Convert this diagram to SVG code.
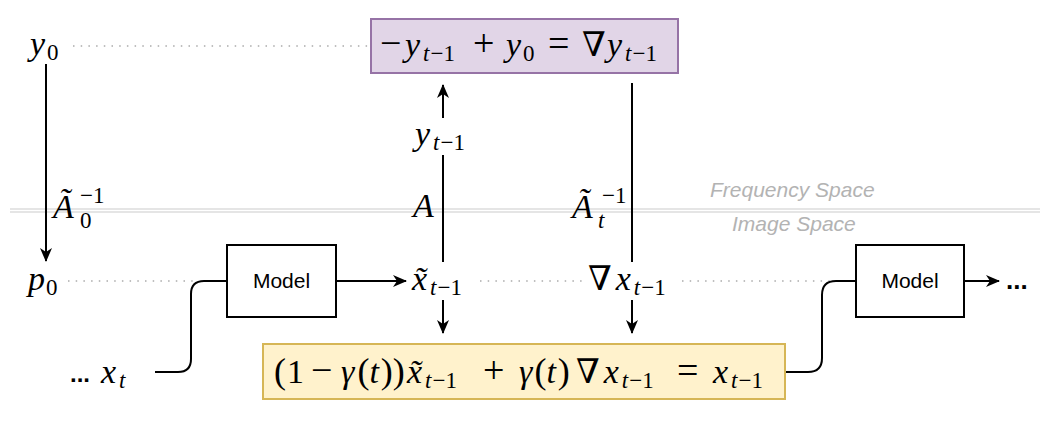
<svg xmlns="http://www.w3.org/2000/svg" width="1047" height="432" viewBox="0 0 1047 432">
<style>
.m{font-family:"Liberation Serif","DejaVu Serif",serif;font-style:italic;font-size:34px;fill:#000}
.r{font-style:normal}
.s{font-size:23px}
.op{font-style:normal;font-size:38px}
.pa{font-style:normal;font-size:36px}
.sans{font-family:"Liberation Sans",Arial,sans-serif;fill:#000}
.space{font-family:"Liberation Sans",Arial,sans-serif;font-style:italic;font-size:21px;fill:#b3b3b3}
.ln{stroke:#000;stroke-width:2;fill:none}
.arr{stroke:#000;stroke-width:2;fill:none;marker-end:url(#ah)}
.dot{stroke:#aaa;stroke-width:1.5;stroke-dasharray:1.5 6.2;fill:none}
.sep{stroke:#dcdcdc;stroke-width:1.5;fill:none}
.box{fill:#fff;stroke:#000;stroke-width:2}
</style>
<defs>
<marker id="ah" viewBox="0 0 14 12" refX="13" refY="6" markerWidth="14" markerHeight="12" markerUnits="userSpaceOnUse" orient="auto">
<path d="M0,0 L14,6 L0,12 L4,6 Z" fill="#000"/>
</marker>
</defs>
<rect width="1047" height="432" fill="#fff"/>

<g id="separator">
<line class="sep" x1="10" y1="209" x2="1040" y2="209"/>
<line class="sep" x1="10" y1="212" x2="1040" y2="212"/>
<text class="space" x="710" y="197">Frequency Space</text>
<text class="space" x="732" y="231">Image Space</text>
</g>

<g id="guides">
<line class="dot" x1="73" y1="46" x2="368" y2="46"/>
<line class="dot" x1="68" y1="281" x2="198" y2="281"/>
<line class="dot" x1="480" y1="281" x2="586" y2="281"/>
<line class="dot" x1="682" y1="281" x2="830" y2="281"/>
</g>

<g id="connectors">
<line class="arr" x1="46" y1="64" x2="46" y2="261"/>
<line class="arr" x1="443" y1="118" x2="443" y2="85"/>
<line class="ln" x1="443" y1="155" x2="443" y2="262"/>
<line class="ln" x1="632" y1="83" x2="632" y2="262"/>
<line class="arr" x1="443" y1="300" x2="443" y2="333"/>
<line class="arr" x1="632" y1="300" x2="632" y2="333"/>
<line class="arr" x1="336" y1="281" x2="406" y2="281"/>
<line class="arr" x1="964" y1="281" x2="999" y2="281"/>
<path class="ln" d="M155,372 H178 Q191,372 191,359 V294 Q191,281 204,281 H227"/>
<path class="ln" d="M785,372 H808 Q822,372 822,358 V295 Q822,281 836,281 H856"/>
</g>

<g id="node-grad-y">
<rect x="371" y="19" width="307" height="54" fill="#e1d5e7" stroke="#9673a6" stroke-width="2"/>
<text class="m" y="56"><tspan class="op" x="380">−</tspan><tspan x="405">y</tspan><tspan class="s" dx="3" dy="5">t</tspan><tspan class="s r" dx="1">−1</tspan><tspan class="op" x="473" dy="-5">+</tspan><tspan x="506">y</tspan><tspan class="s r" dx="2" dy="5">0</tspan><tspan class="op" x="548" dy="-5">=</tspan><tspan class="r" x="582">∇</tspan><tspan x="607">y</tspan><tspan class="s" dx="3" dy="5">t</tspan><tspan class="s r" dx="1">−1</tspan></text>
</g>

<g id="node-update">
<rect x="263" y="344" width="522" height="55" fill="#fff2cc" stroke="#d6b656" stroke-width="2"/>
<text class="m" y="383"><tspan class="pa" x="274">(</tspan><tspan class="r" dx="1">1</tspan><tspan class="op" x="311">−</tspan><tspan x="341">γ</tspan><tspan class="pa" dx="3">(</tspan><tspan>t</tspan><tspan class="pa" dx="2">)</tspan><tspan class="pa">)</tspan><tspan x="407">x̃</tspan><tspan class="s" dx="3" dy="5">t</tspan><tspan class="s r" dx="1">−1</tspan><tspan class="op" x="483" dy="-5">+</tspan><tspan x="519">γ</tspan><tspan class="pa" dx="2">(</tspan><tspan>t</tspan><tspan class="pa" dx="2">)</tspan><tspan class="r" x="576">∇</tspan><tspan dx="4">x</tspan><tspan class="s" dx="3" dy="5">t</tspan><tspan class="s r" dx="1">−1</tspan><tspan class="op" x="677" dy="-5">=</tspan><tspan x="713">x</tspan><tspan class="s" dx="3" dy="5">t</tspan><tspan class="s r" dx="1">−1</tspan></text>
</g>

<g id="node-model-1">
<rect class="box" x="227" y="245" width="109" height="72"/>
<text class="sans" x="281.5" y="288" font-size="21" text-anchor="middle">Model</text>
</g>

<g id="node-model-2">
<rect class="box" x="856" y="245" width="108" height="72"/>
<text class="sans" x="910" y="288" font-size="21" text-anchor="middle">Model</text>
</g>

<g id="node-y0">
<text class="m" y="55"><tspan x="30">y</tspan><tspan class="s r" dx="2" dy="5">0</tspan></text>
</g>
<g id="node-p0">
<text class="m" y="290"><tspan x="28">p</tspan><tspan class="s r" dx="1" dy="5">0</tspan></text>
</g>
<g id="node-xt">
<text class="sans" x="70" y="382" font-size="24" font-weight="bold">...</text>
<text class="m" y="383"><tspan x="101">x</tspan><tspan class="s" dx="3" dy="5">t</tspan></text>
</g>
<g id="node-ytm1">
<text class="m" y="145"><tspan x="415">y</tspan><tspan class="s" dx="3" dy="5">t</tspan><tspan class="s r" dx="1">−1</tspan></text>
</g>
<g id="node-xtilde">
<text class="m" y="290"><tspan x="412">x̃</tspan><tspan class="s" dx="3" dy="5">t</tspan><tspan class="s r" dx="1">−1</tspan></text>
</g>
<g id="node-gradx">
<text class="m" y="290"><tspan class="r" x="588">∇</tspan><tspan dx="4">x</tspan><tspan class="s" dx="3" dy="5">t</tspan><tspan class="s r" dx="1">−1</tspan></text>
</g>
<g id="node-ellipsis">
<text class="sans" x="1006" y="289" font-size="26" font-weight="bold">...</text>
</g>

<g id="labels">
<text class="m"><tspan x="53" y="218">Ã</tspan><tspan class="s r" x="80" y="203">−1</tspan><tspan class="s r" x="80" y="228">0</tspan></text>
<text class="m"><tspan x="413" y="217">A</tspan></text>
<text class="m"><tspan x="572" y="218">Ã</tspan><tspan class="s r" x="602" y="203">−1</tspan><tspan class="s" x="598" y="228">t</tspan></text>
</g>
</svg>
